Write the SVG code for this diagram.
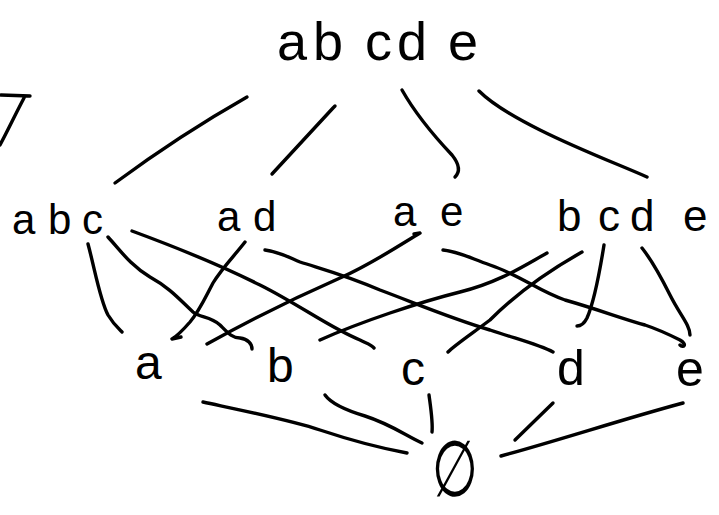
<svg xmlns="http://www.w3.org/2000/svg" width="719" height="515" viewBox="0 0 719 515">
<style>
  .lbl { font-family: "Liberation Sans", "DejaVu Sans", sans-serif; fill: #000; }
  .c path { fill: none; stroke: #000; stroke-width: 3.4; stroke-linecap: round; stroke-linejoin: round; }
</style>
<rect width="719" height="515" fill="#fff"/>
<g class="c" id="fragment"><path d="M1,95 L30,96 M24,98 C15,115 8,130 0,145"/></g>
<g id="n-abcde"><text class="lbl" font-size="54" x="277 313 365 397 448" y="60">abcde</text></g>
<g id="n-abc"><text class="lbl" font-size="42" x="12 48 82" y="234">abc</text></g>
<g id="n-ad"><text class="lbl" font-size="42" x="217 253" y="231">ad</text></g>
<g id="n-ae"><text class="lbl" font-size="42" x="393 440" y="226">ae</text></g>
<g id="n-bcde"><text class="lbl" font-size="44" x="557 598 630 683" y="231">bcde</text></g>
<g id="n-a"><text class="lbl" font-size="48" x="135" y="379">a</text></g>
<g id="n-b"><text class="lbl" font-size="48" x="267" y="382">b</text></g>
<g id="n-c"><text class="lbl" font-size="48" x="401" y="385">c</text></g>
<g id="n-d"><text class="lbl" font-size="50" x="557" y="385">d</text></g>
<g id="n-e"><text class="lbl" font-size="50" x="676" y="386">e</text></g>
<g id="n-empty"><text font-family="DejaVu Sans, sans-serif" font-size="56" text-anchor="middle" transform="translate(455,496) scale(0.95,1.4)">∅</text></g>
<g class="c" id="connectors">
  <path d="M247,97 Q180,135 115,183"/>
  <path d="M335,106 L333,108 L272,174"/>
  <path d="M402,90 C415,113 435,137 452,155 C460,165 460,172 455,177"/>
  <path d="M479,91 C490,102 510,115 540,130 C580,150 620,165 647,177"/>
  <path d="M88,244 C95,270 100,300 108,315 C114,325 120,330 122,332"/>
  <path d="M108,237 C120,250 130,265 150,277 C170,288 180,300 193,312 C200,318 210,316 220,325 C228,333 232,338 240,338 C248,339 252,344 252,349"/>
  <path d="M132,231 C170,245 220,265 260,285 C300,305 330,328 360,340 C366,343 372,345 374,348"/>
  <path d="M245,242 C235,255 222,268 213,283 C205,298 200,310 190,322 C183,330 177,336 172,339 L181,337"/>
  <path d="M265,250 C280,252 290,258 300,262 C325,270 345,275 380,290 C420,305 450,318 490,330 C520,340 540,345 553,352"/>
  <path d="M207,344 C250,320 290,300 340,278 C370,265 400,245 420,233 L414,234"/>
  <path d="M443,250 C460,252 470,258 490,265 C520,275 540,292 565,300 C600,310 620,318 645,325 C660,330 670,335 680,340 C688,345 683,348 680,345"/>
  <path d="M320,340 C360,322 420,302 460,292 C500,282 525,265 547,253"/>
  <path d="M582,252 C550,270 520,290 490,320 C470,335 455,345 448,352"/>
  <path d="M604,245 C600,270 595,300 587,318 C584,324 580,326 577,326"/>
  <path d="M642,248 C650,258 660,275 670,295 C680,315 690,325 690,335"/>
  <path d="M203,402 C240,410 290,420 320,430 C350,440 380,448 407,453"/>
  <path d="M325,395 C330,402 345,410 365,416 C390,424 405,435 422,443"/>
  <path d="M429,395 C431,410 433,422 432,432"/>
  <path d="M553,403 L515,440"/>
  <path d="M683,403 C620,420 560,440 501,456"/>
</g>
</svg>
